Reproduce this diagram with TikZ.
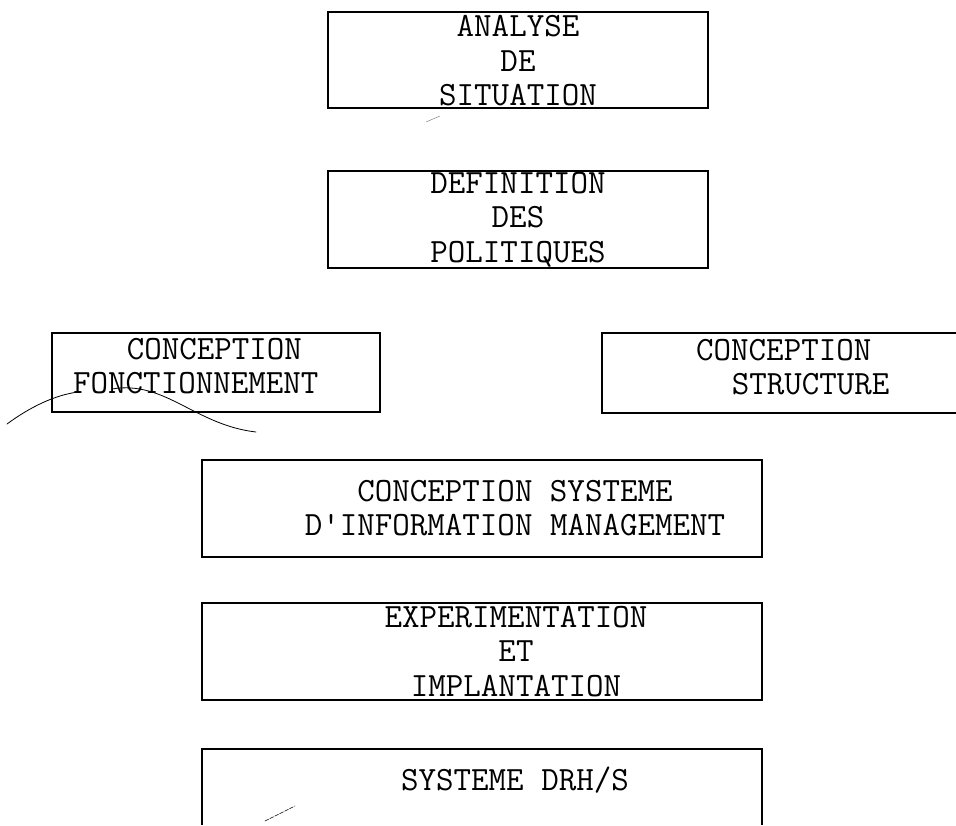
\documentclass[tikz,border=0pt]{standalone}
\begin{document}
\begin{tikzpicture}[x=1pt,y=-1pt,
  frame/.style={draw, line width=1.7pt, inner sep=0pt},
  openframe/.style={line width=1.7pt},
  label/.style={font=\fontsize{34}{34.5}\selectfont\ttfamily, inner sep=0pt},
  stray/.style={line width=0.8pt, line cap=round}]
\useasboundingbox (0,0) rectangle (956,825);
\fill[white] (0,0) rectangle (956,825);

% frames
\node[frame, minimum width=380pt, minimum height=96pt] (f1) at (518,60) {};
\node[frame, minimum width=380pt, minimum height=97pt] (f2) at (518,219.5) {};
\node[frame, minimum width=328pt, minimum height=79pt] (f3) at (216,372.5) {};
\node[frame, minimum width=560pt, minimum height=97pt] (f5) at (482,508.5) {};
\node[frame, minimum width=560pt, minimum height=97pt] (f6) at (482,651.5) {};
\coordinate (f4a) at (956,333);
\coordinate (f4b) at (602,333);
\coordinate (f4c) at (602,413);
\coordinate (f4d) at (956,413);
\draw[openframe] (f4a) -- (f4b) -- (f4c) -- (f4d);
\coordinate (f7a) at (202,825);
\coordinate (f7b) at (202,749);
\coordinate (f7c) at (762,749);
\coordinate (f7d) at (762,825);
\draw[openframe] (f7a) -- (f7b) -- (f7c) -- (f7d);

% texts
\node[label, align=center] (t1) at (518,61) {ANALYSE\\DE\\SITUATION};
\node[label, align=center] (t2) at (518,219.5) {DEFINITION\\DES\\POLITIQUES};
\node[label, align=left, anchor=west] (t3) at (73,366) {\hspace*{1.575em}CONCEPTION\\FONCTIONNEMENT};
\node[label, align=left, anchor=west] (t4) at (696,367) {CONCEPTION\\\hspace*{1.05em}STRUCTURE};
\node[label, align=center] (t5) at (515,508) {CONCEPTION SYSTEME\\D\textquotesingle INFORMATION MANAGEMENT};
\node[label, align=center] (t6) at (516,651.5) {EXPERIMENTATION\\ET\\IMPLANTATION};
\node[label, align=center] (t7) at (515,780) {SYSTEME DRH/S};

% stray pen marks
\coordinate (sa1) at (7,424);
\coordinate (sa2) at (78,392);
\draw[stray] (sa1) .. controls (30,407) and (55,395) .. (sa2);
\coordinate (sb1) at (112,389);
\coordinate (sb2) at (256,432);
\draw[stray] (sb1) .. controls (165,380) and (195,425) .. (sb2);
\coordinate (sc1) at (265,821);
\coordinate (sc2) at (295,806);
\draw[stray, line width=0.6pt, dash pattern=on 4pt off 1.5pt] (sc1) -- (sc2);
\coordinate (sd1) at (426,122);
\coordinate (sd2) at (440,116);
\draw[stray, gray, line width=0.5pt] (sd1) -- (sd2);
\end{tikzpicture}
\end{document}
